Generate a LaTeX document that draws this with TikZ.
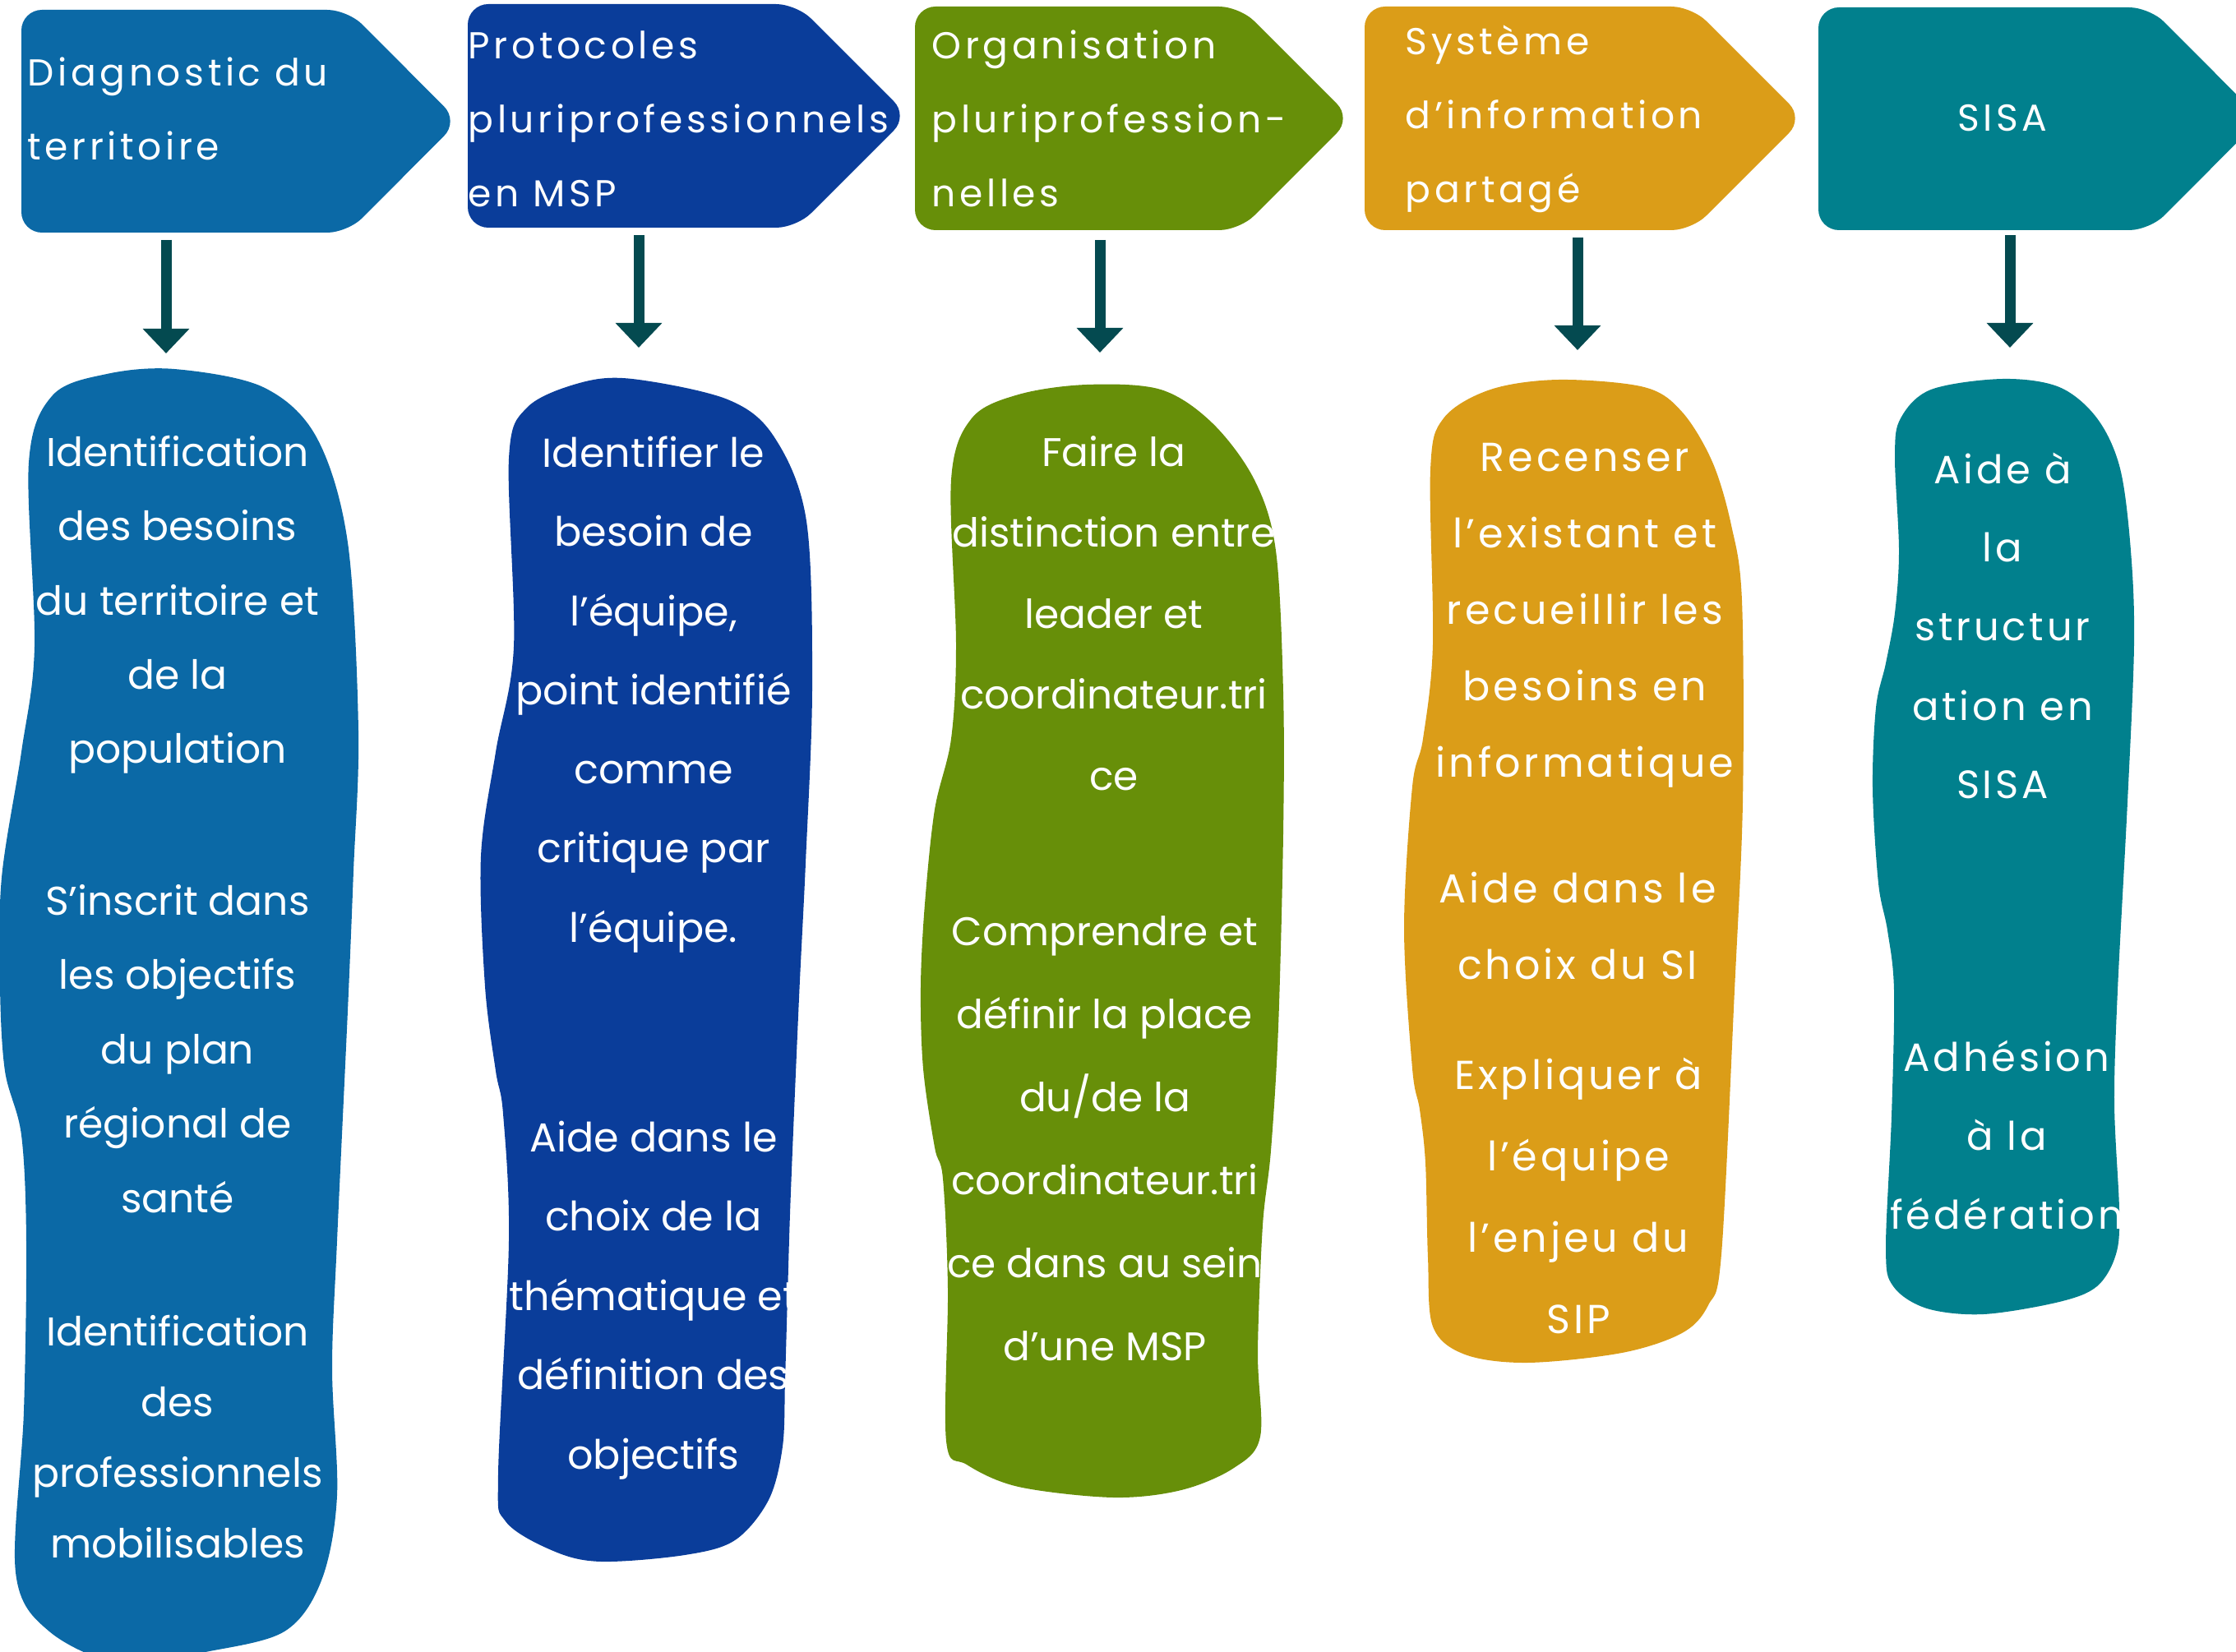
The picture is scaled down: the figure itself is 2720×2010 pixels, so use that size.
\documentclass[tikz,border=0pt]{standalone}
\usepackage{fontspec}
\setmainfont{Poppins}
\newfontfamily\hdfont[LetterSpace=10]{Poppins}
\newfontfamily\spfont[LetterSpace=8]{Poppins}
\usetikzlibrary{arrows.meta}
\definecolor{cA}{RGB}{11,105,166}
\definecolor{cB}{RGB}{10,61,154}
\definecolor{cC}{RGB}{103,143,9}
\definecolor{cD}{RGB}{219,157,24}
\definecolor{cE}{RGB}{1,128,141}
\definecolor{cArrow}{RGB}{4,74,80}
\tikzset{
  hdshape/.style={rounded corners=6.25pt},
  hdtext/.style={text=white, align=left, inner sep=0pt, anchor=base west,
    font=\hdfont\fontsize{11.4pt}{22.5pt}\selectfont},
  bodytext/.style={text=white, align=center, inner sep=0pt, anchor=base},
  conn/.style={draw=cArrow, line width=3.25pt, -{Triangle[width=13.75pt,length=7.5pt]}},
}
\begin{document}
\begin{tikzpicture}[x=0.25pt,y=-0.25pt]
\useasboundingbox (0,0) rectangle (2720,2010);
\clip (0,0) rectangle (2720,2010);

% ---------- headers ----------
\fill[cA,hdshape] (26,12) -- (423,12) -- (558,147.5) -- (423,283) -- (26,283) -- cycle;
\fill[cB,hdshape] (569,5) -- (969,5) -- (1105,141) -- (969,277) -- (569,277) -- cycle;
\fill[cC,hdshape] (1113,8) -- (1508,8) -- (1644,144) -- (1508,280) -- (1113,280) -- cycle;
\fill[cD,hdshape] (1660,8) -- (2058,8) -- (2194,144) -- (2058,280) -- (1660,280) -- cycle;
\fill[cE,hdshape] (2212,9) -- (2615,9) -- (2750,144.5) -- (2615,280) -- (2212,280) -- cycle;

% multi-line nodes: the base anchor is the baseline of the last line
\node[hdtext] (h1) at (33,195) {Diagnostic du\\territoire};
\node[hdtext] (h2) at (569,252) {Protocoles\\pluriprofessionnels\\en MSP};
\node[hdtext] (h3) at (1133,252) {Organisation\\pluriprofession-\\nelles};
\node[hdtext] (h4) at (1709,247) {Système\\d’information\\partagé};
\node[hdtext, anchor=base] (h5) at (2436,160) {SISA};

% ---------- connectors ----------
\coordinate (a1s) at (202,292);  \coordinate (a1e) at (202,430);
\coordinate (a2s) at (777,286);  \coordinate (a2e) at (777,423);
\coordinate (a3s) at (1338,292); \coordinate (a3e) at (1338,429);
\coordinate (a4s) at (1919,289); \coordinate (a4e) at (1919,426);
\coordinate (a5s) at (2445,286); \coordinate (a5e) at (2445,423);
\draw[conn] (a1s) -- (a1e);
\draw[conn] (a2s) -- (a2e);
\draw[conn] (a3s) -- (a3e);
\draw[conn] (a4s) -- (a4e);
\draw[conn] (a5s) -- (a5e);

% ---------- blobs ----------
\fill[cA] plot[smooth cycle, tension=0.55] coordinates {
 (35,563) (64,481) (130,455) (212,449) (320,471) (385,532) (423,660) (436,889)
 (430,1060) (423,1230) (410,1510) (404,1665) (410,1820) (391,1923) (346,1985)
 (250,2010) (150,2025) (60,1985) (19,1913) (29,1717) (32,1510) (26,1381) (6,1303)
 (0,1200) (2,1068) (26,915) (42,787)};
\fill[cB] plot[smooth cycle, tension=0.55] coordinates {
 (619,558) (641,496) (705,466) (769,461) (885,486) (942,532) (981,634) (988,838)
 (980,1050) (972,1214) (962,1450) (958,1577) (955,1680) (952,1760) (935,1825) (894,1874)
 (833,1892) (731,1900) (673,1887) (615,1851) (606,1794) (619,1510) (612,1355)
 (603,1303) (590,1200) (585,1042) (603,915) (625,787)};
\fill[cC] plot[smooth cycle, tension=0.55] coordinates {
 (1157,584) (1182,509) (1239,480) (1322,468) (1412,474) (1475,515) (1526,584)
 (1552,670) (1561,842) (1561,1014) (1555,1250) (1546,1400) (1536,1491) (1530,1644)
 (1533,1748) (1501,1786) (1437,1813) (1354,1822) (1239,1809) (1176,1782) (1151,1753)
 (1153,1568) (1147,1434) (1137,1396) (1123,1300) (1120,1200) (1125,1100) (1137,985)
 (1157,899) (1163,784)};
\fill[cD] plot[smooth cycle, tension=0.55] coordinates {
 (1740,572) (1756,509) (1813,474) (1896,462) (2000,471) (2046,501) (2083,562)
 (2106,639) (2119,731) (2120,976) (2110,1205) (2094,1526) (2078,1588) (2046,1622)
 (1973,1646) (1858,1658) (1782,1648) (1743,1614) (1737,1530) (1734,1415) (1727,1350)
 (1718,1300) (1708,1129) (1718,957) (1731,899) (1743,784)};
\fill[cE] plot[smooth cycle, tension=0.55] coordinates {
 (2305,555) (2312,509) (2349,474) (2436,461) (2505,471) (2551,509) (2579,570)
 (2592,670) (2596,784) (2588,976) (2576,1205) (2572,1343) (2578,1473) (2574,1526)
 (2551,1565) (2505,1584) (2413,1599) (2344,1592) (2303,1565) (2294,1519) (2301,1358)
 (2304,1205) (2296,1132) (2285,1075) (2278,960) (2282,861) (2294,807) (2305,746)
 (2310,670)};

% ---------- blob texts (anchored at the last line's baseline) ----------
\node[bodytext, font=\fontsize{12.2pt}{22.6pt}\selectfont] (t1a) at (216,929)
 {Identification\\des besoins\\du territoire et\\de la\\population};
\node[bodytext, font=\fontsize{12.2pt}{22.6pt}\selectfont] (t1b) at (216,1475)
 {S’inscrit dans\\les objectifs\\du plan\\régional de\\santé};
\node[bodytext, font=\fontsize{12.2pt}{21.5pt}\selectfont] (t1c) at (216,1895)
 {Identification\\des\\professionnels\\mobilisables};

\node[bodytext, font=\fontsize{12.3pt}{24.05pt}\selectfont] (t2a) at (795,1146)
 {Identifier le\\besoin de\\l’équipe,\\point identifié\\comme\\critique par\\l’équipe.};
\node[bodytext, font=\fontsize{12.3pt}{24.1pt}\selectfont] (t2b) at (795,1787)
 {Aide dans le\\choix de la\\thématique et\\définition des\\objectifs};

\node[bodytext, font=\fontsize{12.15pt}{24.6pt}\selectfont] (t3a) at (1355,961)
 {Faire la\\distinction entre\\leader et\\coordinateur.tri\\ce};
\node[bodytext, font=\fontsize{12.15pt}{25.25pt}\selectfont] (t3b) at (1344,1655)
 {Comprendre et\\définir la place\\du/de la\\coordinateur.tri\\ce dans au sein\\d’une MSP};

\node[bodytext, font=\spfont\fontsize{12.3pt}{23.25pt}\selectfont] (t4a) at (1928,946)
 {Recenser\\l’existant et\\recueillir les\\besoins en\\informatique};
\node[bodytext, font=\spfont\fontsize{12.3pt}{23.25pt}\selectfont] (t4b) at (1919,1191)
 {Aide dans le\\choix du SI};
\node[bodytext, font=\spfont\fontsize{12.3pt}{24.75pt}\selectfont] (t4c) at (1920,1622)
 {Expliquer à\\l’équipe\\l’enjeu du\\SIP};

\node[bodytext, font=\spfont\fontsize{12pt}{24pt}\selectfont] (t5a) at (2436,972)
 {Aide à\\la\\structur\\ation en\\SISA};
\node[bodytext, font=\spfont\fontsize{12pt}{23.9pt}\selectfont] (t5b) at (2441,1495)
 {Adhésion\\à la\\fédération};
\end{tikzpicture}
\end{document}
